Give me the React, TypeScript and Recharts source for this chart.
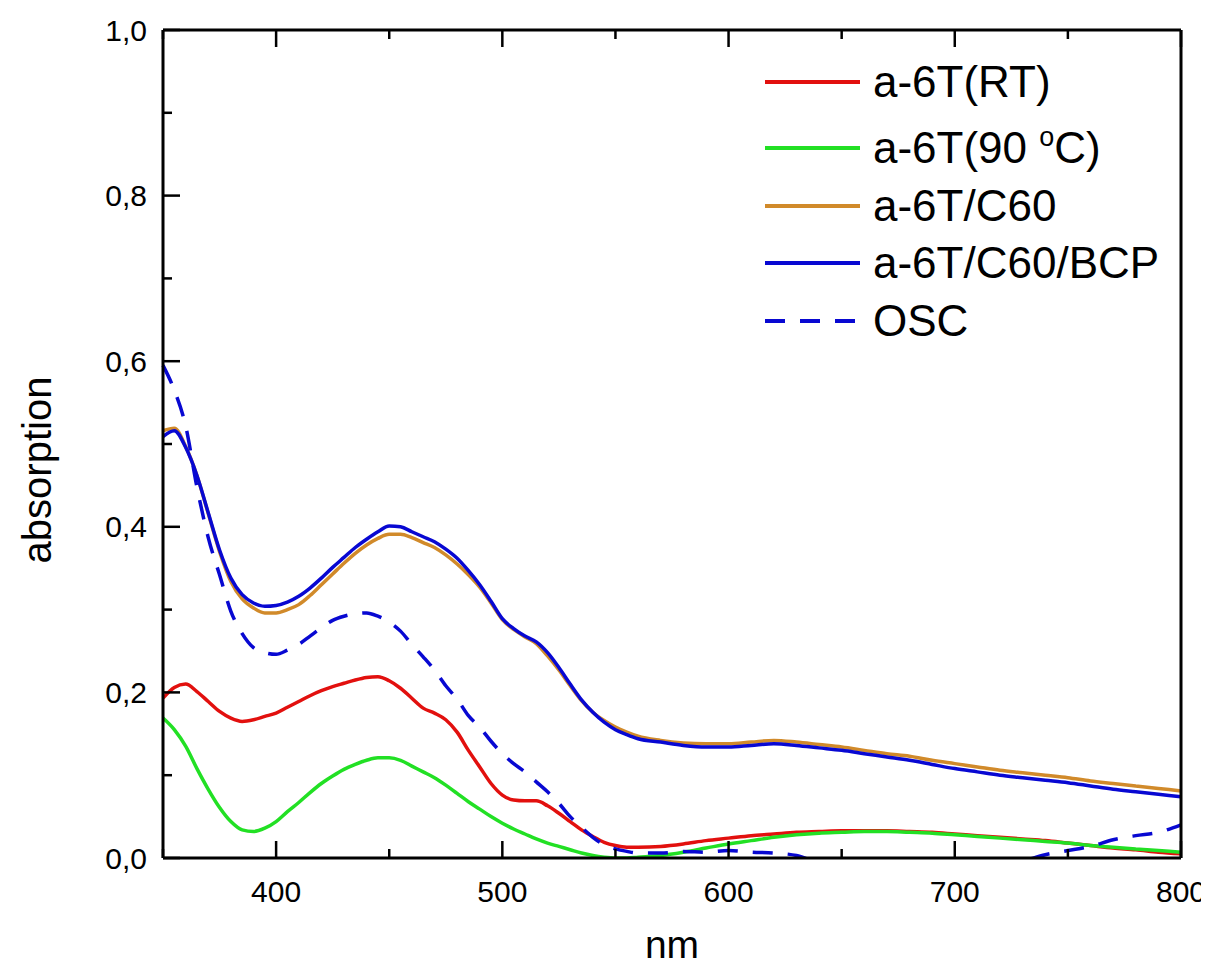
import React from 'react';
import { LineChart, Line, XAxis, YAxis, Legend, Label } from 'recharts';

// ---- data ----
const wavelengths = [
  350, 355, 360, 365, 370, 375, 380, 385, 390, 395,
  400, 405, 410, 415, 420, 425, 430, 435, 440, 445,
  450, 455, 460, 465, 470, 475, 480, 485, 490, 495,
  500, 505, 510, 515, 520, 525, 530, 535, 540, 545,
  550, 555, 560,
  570, 580, 590, 600, 610, 620, 630, 640, 650, 660,
  670, 680, 690, 700, 710, 720, 730, 740, 750, 760,
  770, 780, 790, 800,
];

const rtValues = [
  0.193, 0.206, 0.210, 0.201, 0.189, 0.177, 0.169, 0.165, 0.167, 0.171,
  0.175, 0.182, 0.189, 0.196, 0.202, 0.207, 0.211, 0.215, 0.218, 0.219,
  0.214, 0.205, 0.193, 0.181, 0.175, 0.167, 0.152, 0.130, 0.110, 0.090,
  0.076, 0.070, 0.069, 0.069, 0.063, 0.054, 0.044, 0.034, 0.026, 0.019,
  0.015, 0.013, 0.013,
  0.014, 0.017, 0.021, 0.024, 0.027, 0.029, 0.031, 0.032, 0.033, 0.033,
  0.033, 0.032, 0.031, 0.029, 0.027, 0.025, 0.023, 0.021, 0.018, 0.015,
  0.012, 0.010, 0.007, 0.005,
];

const t90Values = [
  0.169, 0.155, 0.135, 0.108, 0.083, 0.061, 0.044, 0.034, 0.032, 0.036,
  0.044, 0.056, 0.067, 0.079, 0.090, 0.099, 0.107, 0.113, 0.118, 0.121,
  0.121, 0.118, 0.111, 0.104, 0.097, 0.088, 0.078, 0.068, 0.059, 0.050,
  0.042, 0.035, 0.029, 0.023, 0.018, 0.014, 0.010, 0.006, 0.003, 0.001,
  0.000, 0.000, 0.001,
  0.003, 0.007, 0.012, 0.017, 0.021, 0.025, 0.028, 0.030, 0.031, 0.032,
  0.032, 0.031, 0.030, 0.028, 0.026, 0.024, 0.022, 0.020, 0.018, 0.015,
  0.013, 0.011, 0.009, 0.007,
];

const c60Values = [
  0.516, 0.519, 0.497, 0.462, 0.416, 0.370, 0.334, 0.313, 0.302, 0.296,
  0.296, 0.300, 0.306, 0.317, 0.330, 0.343, 0.356, 0.368, 0.378, 0.386,
  0.391, 0.391, 0.387, 0.381, 0.375, 0.366, 0.355, 0.342, 0.327, 0.308,
  0.288, 0.276, 0.267, 0.259, 0.244, 0.227, 0.208, 0.190, 0.176, 0.166,
  0.158, 0.152, 0.147,
  0.142, 0.139, 0.138, 0.138, 0.140, 0.142, 0.140, 0.137, 0.134, 0.130,
  0.126, 0.123, 0.118, 0.114, 0.110, 0.106, 0.103, 0.100, 0.097, 0.093,
  0.090, 0.087, 0.084, 0.081,
];

const bcpValues = [
  0.509, 0.516, 0.496, 0.462, 0.417, 0.372, 0.338, 0.318, 0.308, 0.304,
  0.305, 0.309, 0.316, 0.326, 0.338, 0.351, 0.363, 0.375, 0.385, 0.394,
  0.401, 0.400, 0.394, 0.388, 0.382, 0.373, 0.362, 0.347, 0.330, 0.310,
  0.289, 0.277, 0.268, 0.261, 0.248, 0.230, 0.210, 0.191, 0.176, 0.164,
  0.155, 0.149, 0.144,
  0.140, 0.136, 0.134, 0.134, 0.136, 0.138, 0.136, 0.133, 0.130, 0.126,
  0.122, 0.118, 0.113, 0.108, 0.104, 0.100, 0.097, 0.094, 0.091, 0.087,
  0.083, 0.080, 0.077, 0.074,
];

const oscValues = [
  0.595, 0.565, 0.522, 0.448, 0.387, 0.342, 0.298, 0.271, 0.254, 0.248,
  0.246, 0.251, 0.258, 0.268, 0.278, 0.287, 0.292, 0.295, 0.296, 0.292,
  0.285, 0.274, 0.258, 0.243, 0.227, 0.208, 0.192, 0.172, 0.158, 0.141,
  0.126, 0.114, 0.104, 0.092, 0.080, 0.066, 0.050, 0.037, 0.025, 0.016,
  0.011, 0.008, 0.006,
  0.006, 0.008, 0.007, 0.009, 0.007, 0.006, 0.003, -0.006, -0.010, -0.010,
  -0.010, -0.010, -0.010, -0.010, -0.010, -0.010, -0.004, 0.004, 0.009, 0.014,
  0.022, 0.027, 0.031, 0.040,
];

const seriesNames = ['a-6T(RT)', 'a-6T(90 °C)', 'a-6T/C60', 'a-6T/C60/BCP', 'OSC'];
const seriesKeys = ['rt', 't90', 'c60', 'bcp', 'osc'];
const seriesColors = ['#e2100e', '#22e024', '#d18a2a', '#0808d2', '#0808d2'];
const seriesDashes = ['', '', '', '', '20 15'];

const xTicks = [350, 400, 450, 500, 550, 600, 650, 700, 750, 800];
const yTicks = [0, 0.1, 0.2, 0.3, 0.4, 0.5, 0.6, 0.7, 0.8, 0.9, 1.0];

const xLabel = 'nm';
const yLabel = 'absorption';

// ---- table for recharts ----
const data = wavelengths.map((nm, i) => ({
  nm,
  rt: rtValues[i],
  t90: t90Values[i],
  c60: c60Values[i],
  bcp: bcpValues[i],
  osc: oscValues[i],
}));

const FONT = 'Arial, "Liberation Sans", Helvetica, sans-serif';
const MAJOR = 17;
const MINOR = 9;
const TICK_W = 2.5;
const W = 1200;
const H = 960;

const isMajorX = (v: number) => v % 100 === 0;
const isMajorY = (v: number) => Math.round(v * 10) % 2 === 0;

const BottomTick = (props: any) => {
  const { x, y, payload } = props;
  const v = payload.value;
  const major = isMajorX(v);
  return (
    <g>
      <line x1={x} y1={y} x2={x} y2={y - (major ? MAJOR : MINOR)} stroke="#000" strokeWidth={TICK_W} />
      {major && (
        <text x={x} y={y + 44} textAnchor="middle" fontSize={30} fontFamily={FONT} fill="#000">
          {v}
        </text>
      )}
    </g>
  );
};

const TopTick = (props: any) => {
  const { x, y, payload } = props;
  const major = isMajorX(payload.value);
  return <line x1={x} y1={y} x2={x} y2={y + (major ? MAJOR : MINOR)} stroke="#000" strokeWidth={TICK_W} />;
};

const LeftTick = (props: any) => {
  const { x, y, payload } = props;
  const v = payload.value;
  const major = isMajorY(v);
  return (
    <g>
      <line x1={x} y1={y} x2={x + (major ? MAJOR : MINOR)} y2={y} stroke="#000" strokeWidth={TICK_W} />
      {major && (
        <text x={x - 16} y={y} dy="0.35em" textAnchor="end" fontSize={30} fontFamily={FONT} fill="#000">
          {v.toFixed(1).replace('.', ',')}
        </text>
      )}
    </g>
  );
};

const RightTick = (props: any) => {
  const { x, y, payload } = props;
  const major = isMajorY(payload.value);
  return <line x1={x} y1={y} x2={x - (major ? MAJOR : MINOR)} y2={y} stroke="#000" strokeWidth={TICK_W} />;
};

const XTitle = (props: any) => {
  const vb = props.viewBox || { x: 155, y: 850, width: 1018, height: 110 };
  return (
    <text x={vb.x + vb.width / 2} y={vb.y + vb.height - 10} textAnchor="middle" fontSize={39} fontFamily={FONT} fill="#000">
      {xLabel}
    </text>
  );
};

const YTitle = (props: any) => {
  const vb = props.viewBox || { x: 0, y: 22, width: 155, height: 828 };
  const cx = vb.x + 43;
  const cy = vb.y + vb.height / 2 + 26;
  return (
    <text transform={`translate(${cx},${cy}) rotate(-90)`} textAnchor="middle" fontSize={40} fontFamily={FONT} fill="#000">
      {yLabel}
    </text>
  );
};

const legendRows = [74, 140, 198, 255, 313];

const renderName = (name: string) => {
  const idx = name.indexOf('°');
  if (idx < 0) return name;
  return (
    <>
      {name.slice(0, idx)}
      <tspan dy={-17} fontSize={27}>o</tspan>
      <tspan dy={17} fontSize={44}>{name.slice(idx + 1)}</tspan>
    </>
  );
};

const LegendContent = (props: any) => {
  const payload: any[] = props.payload || [];
  const items = seriesKeys.map((k, i) => {
    const p = payload.find((e) => e.dataKey === k);
    return {
      name: p ? p.value : seriesNames[i],
      color: p ? p.color : seriesColors[i],
      dash: seriesDashes[i],
    };
  });
  return (
    <svg width={W} height={400} style={{ display: 'block' }}>
      {items.map((it, i) => (
        <g key={i}>
          <line
            x1={757}
            x2={852}
            y1={legendRows[i]}
            y2={legendRows[i]}
            stroke={it.color}
            strokeWidth={4}
            strokeDasharray={it.dash || undefined}
          />
          <text x={865} y={legendRows[i]} dy="0.35em" fontSize={44} fontFamily={FONT} fill="#000">
            {renderName(it.name)}
          </text>
        </g>
      ))}
    </svg>
  );
};

export default function App() {
  return (
    <div style={{ width: W, height: H, background: '#fff', overflow: 'hidden', marginBottom: -8 }}>
      <LineChart
        width={W}
        height={H}
        data={data}
        margin={{ top: 21, right: 26, bottom: 0, left: 0 }}
        style={{ background: '#fff' }}
      >
        <XAxis
          xAxisId={0}
          dataKey="nm"
          type="number"
          domain={[350, 800]}
          ticks={xTicks}
          interval={0}
          orientation="bottom"
          height={110}
          tickSize={0}
          tickMargin={0}
          tickLine={false}
          axisLine={{ stroke: '#000', strokeWidth: 3 }}
          tick={(p: any) => <BottomTick {...p} />}
        >
          <Label content={(p: any) => <XTitle {...p} />} />
        </XAxis>
        <XAxis
          xAxisId="top"
          dataKey="nm"
          type="number"
          domain={[350, 800]}
          ticks={xTicks}
          interval={0}
          orientation="top"
          height={1}
          tickSize={0}
          tickMargin={0}
          tickLine={false}
          axisLine={{ stroke: '#000', strokeWidth: 3 }}
          tick={(p: any) => <TopTick {...p} />}
        />
        <YAxis
          yAxisId={0}
          type="number"
          domain={[0, 1]}
          allowDataOverflow
          ticks={yTicks}
          interval={0}
          orientation="left"
          width={155}
          tickSize={0}
          tickMargin={0}
          tickLine={false}
          axisLine={{ stroke: '#000', strokeWidth: 3 }}
          tick={(p: any) => <LeftTick {...p} />}
        >
          <Label content={(p: any) => <YTitle {...p} />} />
        </YAxis>
        <YAxis
          yAxisId="right"
          type="number"
          domain={[0, 1]}
          ticks={yTicks}
          interval={0}
          orientation="right"
          width={1}
          tickSize={0}
          tickMargin={0}
          tickLine={false}
          axisLine={{ stroke: '#000', strokeWidth: 3 }}
          tick={(p: any) => <RightTick {...p} />}
        />
        <Legend
          layout="vertical"
          align="center"
          verticalAlign="middle"
          content={(p: any) => <LegendContent {...p} />}
          wrapperStyle={{ position: 'absolute', left: 0, top: 0, width: W, height: 400, pointerEvents: 'none' }}
        />
        {seriesKeys.map((k, i) => (
          <Line
            key={k}
            xAxisId={0}
            yAxisId={0}
            dataKey={k}
            name={seriesNames[i]}
            type="monotone"
            stroke={seriesColors[i]}
            strokeWidth={3.5}
            strokeDasharray={seriesDashes[i] || undefined}
            dot={false}
            activeDot={false}
            isAnimationActive={false}
          />
        ))}
      </LineChart>
    </div>
  );
}
